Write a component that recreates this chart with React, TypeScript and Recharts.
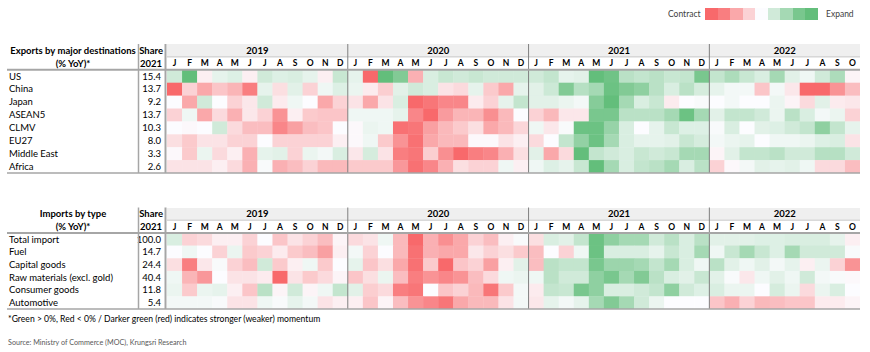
import React from 'react';
import { ScatterChart, Scatter, XAxis, YAxis } from 'recharts';

// ---------- labels ----------
const monthLetters = ['J', 'F', 'M', 'A', 'M', 'J', 'J', 'A', 'S', 'O', 'N', 'D'];
const years = ['2019', '2020', '2021', '2022'];
const monthsInYear = [12, 12, 12, 10];

const exportRows = ['US', 'China', 'Japan', 'ASEAN5', 'CLMV', 'EU27', 'Middle East', 'Africa'];
const exportShares = ['15.4', '13.7', '9.2', '13.7', '10.3', '8.0', '3.3', '2.6'];
const importRows = ['Total import', 'Fuel', 'Capital goods', 'Raw materials (excl. gold)', 'Consumer goods', 'Automotive'];
const importShares = ['100.0', '14.7', '24.4', '40.4', '11.8', '5.4'];

// ---------- momentum scores (-4 strong contraction .. +4 strong expansion), Jan-2019 .. Oct-2022 ----------
const expUS = [1, 4, -0.3, 0.5, 0.7, -0.3, 1, 0.7, 0.8, 0.5, -0.3, 1.2, 0.5, -3.5, 3.5, 2.8, -1.8, 0.8, 1.2, 1, 1.2, 1, 1, 1, 1, 1.3, 0.5, 0.6, 3.5, 3.2, 1.5, 1.3, 1.5, 1.2, 1.3, 3, 1.3, 1.8, 1.2, 0.8, 2, 0.6, 0.3, 1, 1.8, -0.2];
const expChina = [-3.5, -1, -2, -1.3, -1.7, -3, 0.5, -0.7, 0.6, -1, 0.3, 0.7, 0.4, -0.4, -1.1, 0.6, 1, 0.8, -0.6, -0.8, 0.5, -1.2, -2, 0.5, 0.6, 1.1, 2.8, 1.6, 2, 3.3, 2.8, 2.5, 1.5, 0.8, 1.5, 0.9, 0.5, 0.2, 0.2, -1.3, 0.2, -0.5, -3.5, -3.5, -2.5, -1.5];
const expJapan = [0, -2, 1, 0, -1, -0.5, 1, -0.4, 0.3, 0, -2, -1, -0.6, -2, -0.6, 0.8, -3.5, -3.2, -2.8, -2.8, -0.4, -1, 0.5, 1.3, 0.6, 0.6, 0.4, 0.2, 2.7, 3.5, 2, 0.8, 1.2, -0.4, 0, 0.1, 0, 0.2, 0, 0, 0.4, -0.2, -0.8, 0.6, -0.4, -0.5];
const expASEAN5 = [-1, 0.3, -2, -0.8, -1.8, -0.5, -1, -2.5, -0.3, -1.2, -1.3, -1.3, 0.3, 0.3, 0.3, 0.5, -2.8, -3.5, -2.3, -1.7, -1.7, -2.6, -1.6, 0, -1, -1.6, -0.5, -0.5, 3, 3, 1.5, 1.5, 1.5, 2, 3.3, 2, 0.6, 1.3, 1.3, 1, 0.4, 1.5, 0.8, 0.2, 0.4, -1];
const expCLMV = [0, -0.1, 0, 1, -0.8, -1.5, -1.5, -2.8, -2.2, -1.5, -1.3, 0, -0.1, 0.4, 0.3, -3.3, -3.2, -2.2, -1.6, -1.2, -0.7, -2, -1.6, -0.9, 0.3, -0.5, 0.1, 3.3, 3.3, 2.3, 0.8, 0, 0.5, 1.2, 0.7, 0.7, 0.1, 0.8, 0, 0.6, 0.7, 1, 1.3, 2.5, 1.3, 0.5];
const expEU27 = [-0.7, -1.2, -0.6, -0.6, -1, -1, 0, -1, -1, -1, -1, -0.3, -0.1, 0.3, -1.2, -2.5, -3.3, -2, -1.6, -1.6, -0.1, -0.1, -0.6, -0.3, -0.8, 0, 1.3, 2.4, 3.3, 2, 0.8, 0.5, 0.5, 0.6, 1.2, 0.9, 0.2, 0.4, 0.5, 0, 0.3, 0.3, 0.4, 0.7, 0.8, -0.6];
const expMiddleEast = [-0.1, -1.2, 0.4, -0.8, -0.3, -1.8, 0.5, 0.6, -1, 0.4, 0.2, 0.8, -0.5, 0.9, -0.6, -3, -3.2, -1.1, -2.6, -3.7, -3, -2.8, -1.8, -0.7, 0.6, -2, -0.8, 3.5, 1.3, 1, 0.8, 1.2, 1, 1.2, 2, 2, -0.2, 0.6, 1.3, 1.3, 1.5, 1, 1, 1.6, 1.6, 1];
const expAfrica = [-0.6, -0.6, -0.6, -0.3, -0.8, -1.8, 0.1, -1.8, -1.5, -1, -1.6, -1.6, -1.2, -1.2, -1.2, -2.4, -3.3, -2.8, -1.8, -0.7, -1, -1, 0.3, -0.3, 0.3, 0.7, 0.5, 1.2, 3.5, 2, 0.8, 1.3, 1.5, 2, 0.8, 1.5, -1, -0.1, 0.2, 0.6, 0.5, 0.6, 0.3, -0.8, -0.8, -1.5];

const impTotal = [0.8, -1, -0.8, -0.3, -0.3, -1, 0, -1.3, -0.6, -1, -1.5, -0.2, -0.8, -0.6, 0.3, -1.6, -3.5, -1.8, -2.6, -2, -1, -1.5, -0.3, 0.1, -0.7, 0.8, 0.6, 1.3, 3.3, 2.5, 2, 2, 1, 1.5, 0.8, 1.5, 0.6, 0.6, 0.6, 0.7, 0.7, 0.8, 0.8, 0.8, 0.5, -0.3];
const impFuel = [0, 0.3, 0, -1, 0.4, -1.2, -1, -0.4, -1.2, -1.5, -2.2, -0.3, 0.2, -1, 0, -1.6, -3.3, -1.8, -2, -2, -0.5, -1, -0.7, -1.2, -1.5, 0, -1, 0.3, 3.3, 0.8, 0.8, 0.8, 0.5, 1.2, 0.8, 2, 0.3, 1.2, 2, 1.2, 0.7, 2, 1, 1, 1, 0.1];
const impCapital = [-0.7, -3, -0.5, 0.1, -1, -1.5, 1, -1.2, -0.3, 0.3, -1.2, 0, 0.5, -1.3, -0.7, -2, -3.3, -1.2, -3.5, -1.3, -1, -2.2, -0.3, 0.6, -1.5, 1.5, 1.3, 1.3, 3, 2.2, 2.2, 2, 1.3, 2, 0.8, 0.3, 1.5, 0.6, 0.3, 0.6, 0.2, 0.5, -0.3, 0.4, -1, -2.5];
const impRaw = [0.3, -1.7, -2.4, 0, -0.6, -0.6, -0.4, -3.5, -0.6, -1.2, -0.8, -0.2, -1.3, -0.7, 0.4, -1.5, -3, -2.5, -2.8, -2.5, -1.5, -0.8, 0.3, 0.4, 0.3, 1.5, 1, 1, 2.5, 3, 2, 2.8, 1.5, 0.8, 0.6, 1.2, 0.6, 0.1, -0.5, 0.3, 0.6, 0.3, 1, 0.2, 0.1, -0.1];
const impConsumer = [0.4, -1.2, 0.4, 0.5, -0.3, -1.3, 1.5, -0.2, 1, -0.2, 0.3, 1.3, 0.6, -1.1, -0.8, -3, -3.2, 0, -1.3, -1, -1.6, -3.2, -1.2, 0.2, -0.4, 1.3, 1.2, 3, 2.5, 0.8, 0.8, 1, 1.3, 2.5, 1, 0.7, 0.8, 0.4, 0.4, 0, 0.9, 0.4, -0.8, 0.4, 0.8, 0];
const impAuto = [0.2, 0.2, 0.2, 0.1, -0.6, -0.6, 0.3, 0.1, 0.5, 0.2, -0.6, -0.3, -0.3, -1.3, -0.2, -1.5, -2.5, -2.8, -3.2, -2, -1.6, -1.6, -0.6, 0.2, -0.5, 0.5, 0.2, 0.5, 2, 2.8, 2, 1, 0.4, 0, 0, 0, -1.3, -1.8, -1, -1.6, -1.5, -1.3, -1.3, -0.4, -0.4, -0.2];

const exportValues = [expUS, expChina, expJapan, expASEAN5, expCLMV, expEU27, expMiddleEast, expAfrica];
const importValues = [impTotal, impFuel, impCapital, impRaw, impConsumer, impAuto];

const legendSteps = [-4, -3, -2, -1, 0, 1, 2, 3, 4];

// ---------- layout ----------
const W = 870;
const PLOT_LEFT = 167;
const PLOT_RIGHT = 860;
const N_MONTHS = monthsInYear.reduce((a, b) => a + b, 0);
const CELL_W = (PLOT_RIGHT - PLOT_LEFT) / N_MONTHS;
const FONT = 'Lato, "Open Sans", sans-serif';

const RED = [248, 105, 107];
const MID = [252, 252, 255];
const GREEN = [99, 190, 123];
const MAX_ABS = 3.5;

function heatColor(v: number) {
  const t = Math.min(1, Math.abs(v) / MAX_ABS);
  const end = v < 0 ? RED : GREEN;
  const c = MID.map((m, i) => Math.round(m + (end[i] - m) * t));
  return `rgb(${c[0]},${c[1]},${c[2]})`;
}

type TableProps = {
  title: string;
  subtitle: string;
  rows: string[];
  shares: string[];
  values: number[][];
  plotTop: number;
  plotBottom: number;
};

function HeatTable({ title, subtitle, rows, shares, values, plotTop, plotBottom }: TableProps) {
  const nRows = rows.length;
  const chartH = plotBottom + 8;
  const rowH = (plotBottom - plotTop) / (nRows + 2);

  const cells: { x: number; y: number; v: number }[] = [];
  values.forEach((series, r) => series.forEach((v, m) => cells.push({ x: m + 0.5, y: r + 0.5, v })));

  const monthData: { x: number; y: number; label: string }[] = [];
  const yearData: { x: number; y: number; label: string }[] = [];
  let start = 0;
  years.forEach((yr, k) => {
    for (let j = 0; j < monthsInYear[k]; j++) monthData.push({ x: start + j + 0.5, y: -0.5, label: monthLetters[j] });
    yearData.push({ x: start + monthsInYear[k] / 2, y: -1.5, label: yr });
    start += monthsInYear[k];
  });
  const yearBounds: number[] = [];
  let acc = 0;
  monthsInYear.slice(0, -1).forEach((n) => {
    acc += n;
    yearBounds.push(acc);
  });

  const yTicks = [-1.5, -0.5, ...rows.map((_, i) => i + 0.5)];

  const renderTick = (p: any) => {
    const v = p.payload.value;
    const y = p.y;
    const common = { y, dy: '0.35em', fontFamily: FONT, fill: '#000' } as any;
    if (v === -1.5) {
      return (
        <g>
          <text {...common} x={73} textAnchor="middle" fontSize={9.5} fontWeight="bold">{title}</text>
          <text {...common} x={163} textAnchor="end" fontSize={9.5} fontWeight="bold">Share</text>
        </g>
      );
    }
    if (v === -0.5) {
      return (
        <g>
          <text {...common} x={73} textAnchor="middle" fontSize={9.5} fontWeight="bold">{subtitle}</text>
          <text {...common} x={162} textAnchor="end" fontSize={9.5} fontWeight="bold">2021</text>
        </g>
      );
    }
    const idx = Math.round(v - 0.5);
    return (
      <g>
        <text {...common} x={9} textAnchor="start" fontSize={9.5}>{rows[idx]}</text>
        <text {...common} x={161} textAnchor="end" fontSize={9.5}>{shares[idx]}</text>
      </g>
    );
  };

  const renderCell = (p: any) => (
    <rect
      x={p.cx - CELL_W / 2}
      y={p.cy - rowH / 2}
      width={CELL_W + 0.4}
      height={rowH + 0.4}
      fill={heatColor(p.payload.v)}
    />
  );
  const renderMonth = (p: any) => (
    <text x={p.cx} y={p.cy} dy="0.35em" textAnchor="middle" fontFamily={FONT} fontSize={8.5} fontWeight="bold" fill="#000">
      {p.payload.label}
    </text>
  );
  const renderYear = (p: any) => (
    <text x={p.cx} y={p.cy} dy="0.35em" textAnchor="middle" fontFamily={FONT} fontSize={9.5} fontWeight="bold" fill="#000">
      {p.payload.label}
    </text>
  );

  const headerBottom = plotTop + 2 * rowH;
  return (
    <div style={{ position: 'absolute', left: 0, top: 0, width: W, height: chartH }}>
      <div
        style={{
          position: 'absolute',
          left: PLOT_LEFT,
          top: plotTop,
          width: PLOT_RIGHT - PLOT_LEFT,
          height: rowH,
          background: '#EFEFEF',
        }}
      />
      <div style={{ position: 'absolute', left: 0, top: 0 }}>
        <ScatterChart
          width={W}
          height={chartH}
          margin={{ top: plotTop, right: W - PLOT_RIGHT, bottom: chartH - plotBottom, left: 0 }}
        >
          <XAxis type="number" dataKey="x" domain={[0, N_MONTHS]} allowDataOverflow hide />
          <YAxis
            type="number"
            dataKey="y"
            domain={[-2, nRows]}
            allowDataOverflow
            reversed
            width={PLOT_LEFT}
            ticks={yTicks}
            interval={0}
            tick={renderTick}
            axisLine={false}
            tickLine={false}
          />
          <Scatter data={cells} shape={renderCell} isAnimationActive={false} />
          <Scatter data={monthData} shape={renderMonth} isAnimationActive={false} />
          <Scatter data={yearData} shape={renderYear} isAnimationActive={false} />
        </ScatterChart>
      </div>
      <svg
        width={W}
        height={chartH}
        style={{ position: 'absolute', left: 0, top: 0, pointerEvents: 'none' }}
      >
        <line x1={PLOT_LEFT} x2={PLOT_RIGHT} y1={plotTop + rowH} y2={plotTop + rowH} stroke="#C8C8C8" strokeWidth={1} />
        {yearBounds.map((b) => (
          <line
            key={b}
            x1={PLOT_LEFT + b * CELL_W}
            x2={PLOT_LEFT + b * CELL_W}
            y1={plotTop}
            y2={plotBottom}
            stroke="#7F7F7F"
            strokeWidth={1}
          />
        ))}
        <line x1={138.5} x2={138.5} y1={plotTop} y2={plotBottom} stroke="#A6A6A6" strokeWidth={1.5} />
        <line x1={165.5} x2={165.5} y1={plotTop} y2={plotBottom} stroke="#A6A6A6" strokeWidth={2} />
        <line x1={7} x2={PLOT_RIGHT} y1={headerBottom} y2={headerBottom} stroke="#A6A6A6" strokeWidth={2} />
        <line x1={7} x2={PLOT_RIGHT} y1={plotBottom} y2={plotBottom} stroke="#A6A6A6" strokeWidth={1.5} />
      </svg>
    </div>
  );
}

export default function App() {
  return (
    <div style={{ position: 'absolute', left: 0, top: 0, width: W, height: 352, background: '#fff', fontFamily: FONT }}>
      {/* legend */}
      <div style={{ position: 'absolute', left: 668, top: 8, height: 12, fontSize: 8.5, color: '#404040', lineHeight: '12px' }}>
        Contract
      </div>
      {legendSteps.map((s, i) => (
        <div
          key={s}
          style={{
            position: 'absolute',
            left: 705 + i * 12.5,
            top: 8,
            width: 12.6,
            height: 11.5,
            background: heatColor(s),
          }}
        />
      ))}
      <div style={{ position: 'absolute', left: 826, top: 8, height: 12, fontSize: 8.5, color: '#404040', lineHeight: '12px' }}>
        Expand
      </div>

      <HeatTable
        title="Exports by major destinations"
        subtitle="(% YoY)*"
        rows={exportRows}
        shares={exportShares}
        values={exportValues}
        plotTop={44}
        plotBottom={173}
      />
      <HeatTable
        title="Imports by type"
        subtitle="(% YoY)*"
        rows={importRows}
        shares={importShares}
        values={importValues}
        plotTop={207.5}
        plotBottom={309}
      />

      <div style={{ position: 'absolute', left: 8, top: 313, fontSize: 8.6, color: '#000', lineHeight: '12px', whiteSpace: 'nowrap' }}>
        *Green &gt; 0%, Red &lt; 0% / Darker green (red) indicates stronger (weaker) momentum
      </div>
      <div style={{ position: 'absolute', left: 8, top: 338, fontSize: 7.2, color: '#595959', lineHeight: '10px', whiteSpace: 'nowrap' }}>
        Source: Ministry of Commerce (MOC), Krungsri Research
      </div>
    </div>
  );
}
